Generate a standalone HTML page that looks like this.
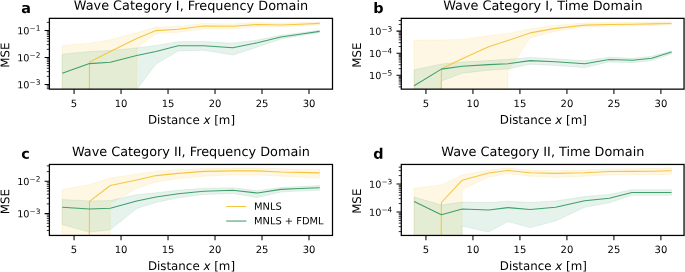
<!DOCTYPE html>
<html lang="en"><head><meta charset="utf-8"><title>MSE vs Distance</title>
<style>html,body{margin:0;padding:0;background:#fff}body{width:685px;height:272px;overflow:hidden}svg{display:block}text{font-family:"DejaVu Sans","Liberation Sans",sans-serif;fill:#000}.t{font-size:12.85px;text-anchor:middle}.l{font-size:11.85px;text-anchor:middle}.k{font-size:9.7px}.kx{text-anchor:middle;font-size:10px}.ky{text-anchor:end}.s{font-size:7.4px}.p{font-size:14.4px;font-weight:bold}.g{font-size:9.9px}</style></head><body>
<svg width="685" height="272" viewBox="0 0 685 272">
<rect width="685" height="272" fill="#fff"/>
<g id="panel-a">
<clipPath id="ca"><rect x="49.4" y="18.35" width="283.1" height="70.8"/></clipPath>
<g clip-path="url(#ca)">
<path d="M62.2 45.4 L89.5 43.3 L110.3 39.7 L136.7 32.7 L156 27 L178.2 26.5 L203.6 23.5 L232.8 23.9 L257.4 22.5 L280.9 23.2 L299.8 22.6 L319.6 22 L319.6 24.9 L299.8 26 L280.9 27.1 L257.4 26.6 L232.8 28.8 L203.6 29 L178.2 32.3 L156 33.8 L136.7 48 L110.3 5000 L89.5 5000 L62.2 5000Z" fill="#f6c643" fill-opacity="0.14" stroke="#f6c643" stroke-opacity="0.14" stroke-width="0.9" stroke-linejoin="miter"/>
<path d="M62.2 54.2 L89.5 51.6 L110.3 50.4 L136.7 47.9 L156 45.5 L178.2 41.7 L203.6 41.5 L232.8 43.2 L257.4 40 L280.9 35.3 L299.8 32.9 L319.6 30.3 L319.6 32.6 L299.8 35.7 L280.9 39 L257.4 47 L232.8 55 L203.6 50.2 L178.2 51 L156 64 L136.7 89.5 L110.3 5000 L89.5 5000 L62.2 5000Z" fill="#409f6a" fill-opacity="0.13" stroke="#409f6a" stroke-opacity="0.13" stroke-width="0.9" stroke-linejoin="miter"/>
<path d="M62.2 5000 L89.5 62.1 L110.3 51.6 L136.7 38.5 L156 30.6 L178.2 29.3 L203.6 26 L232.8 26.3 L257.4 24.5 L280.9 25.05 L299.8 24.2 L319.6 23.4" fill="none" stroke="#f6c643" stroke-width="1.07" stroke-linejoin="round"/>
<path d="M62.2 73.3 L89.5 63.6 L110.3 62.2 L136.7 55.6 L156 51.4 L178.2 45.8 L203.6 45.8 L232.8 47.7 L257.4 42.7 L280.9 37 L299.8 34.2 L319.6 31.4" fill="none" stroke="#409f6a" stroke-width="1.07" stroke-linejoin="round"/>
</g>
<path d="M74.05 89.15v4.8M121.04 89.15v4.8M168.03 89.15v4.8M215.02 89.15v4.8M262.01 89.15v4.8M309 89.15v4.8" stroke="#000" stroke-width="1.05" fill="none"/>
<path d="M49.4 30.5h-4.8M49.4 57.4h-4.8M49.4 84.5h-4.8" stroke="#000" stroke-width="1.05" fill="none"/>
<path d="M49.4 88.68h-2.6M49.4 87.12h-2.6M49.4 85.74h-2.6M49.4 76.37h-2.6M49.4 71.62h-2.6M49.4 68.24h-2.6M49.4 65.63h-2.6M49.4 63.49h-2.6M49.4 61.68h-2.6M49.4 60.12h-2.6M49.4 58.74h-2.6M49.4 49.37h-2.6M49.4 44.62h-2.6M49.4 41.24h-2.6M49.4 38.63h-2.6M49.4 36.49h-2.6M49.4 34.68h-2.6M49.4 33.12h-2.6M49.4 31.74h-2.6M49.4 22.37h-2.6" stroke="#000" stroke-width="0.8" fill="none"/>
<rect x="49.4" y="18.35" width="283.1" height="70.8" fill="none" stroke="#000" stroke-width="1.25"/>
<text class="k kx" x="74.05" y="107.05" transform="rotate(0.03 74.05 107.05)">5</text>
<text class="k kx" x="121.04" y="107.05" transform="rotate(0.03 121.04 107.05)">10</text>
<text class="k kx" x="168.03" y="107.05" transform="rotate(0.03 168.03 107.05)">15</text>
<text class="k kx" x="215.02" y="107.05" transform="rotate(0.03 215.02 107.05)">20</text>
<text class="k kx" x="262.01" y="107.05" transform="rotate(0.03 262.01 107.05)">25</text>
<text class="k kx" x="309" y="107.05" transform="rotate(0.03 309 107.05)">30</text>
<text class="k ky" x="40.4" y="34.25" transform="rotate(0.03 40.4 34.25)">10<tspan class="s" dx="-0.05" dy="-3.45">−1</tspan></text>
<text class="k ky" x="40.4" y="61.15" transform="rotate(0.03 40.4 61.15)">10<tspan class="s" dx="-0.05" dy="-3.45">−2</tspan></text>
<text class="k ky" x="40.4" y="88.25" transform="rotate(0.03 40.4 88.25)">10<tspan class="s" dx="-0.05" dy="-3.45">−3</tspan></text>
<text class="t" x="190.95" y="9.9" transform="rotate(0.03 190.95 9.9)">Wave Category I, Frequency Domain</text>
<text class="l" x="191.45" y="123.9" transform="rotate(0.03 191.45 123.9)">Distance <tspan font-style="italic">x</tspan> [m]</text>
<text class="l" transform="translate(9.2 55.2) rotate(-90.03)">MSE</text>
<text class="p" x="21.2" y="13" transform="rotate(0.03 21.2 13)">a</text>
</g>
<g id="panel-b">
<clipPath id="cb"><rect x="401.3" y="18.35" width="282.75" height="70.8"/></clipPath>
<g clip-path="url(#cb)">
<path d="M414.1 40.3 L441.4 40 L462.2 39.5 L488.6 35.8 L507.9 33.4 L530.1 28.9 L555.5 25.3 L584.7 23.1 L609.3 22.6 L632.8 22.4 L651.7 22.1 L671.5 21.8 L671.5 25 L651.7 25.5 L632.8 26 L609.3 26.2 L584.7 26.8 L555.5 31.2 L530.1 38 L507.9 71.5 L488.6 5000 L462.2 5000 L441.4 5000 L414.1 5000Z" fill="#f6c643" fill-opacity="0.14" stroke="#f6c643" stroke-opacity="0.14" stroke-width="0.9" stroke-linejoin="miter"/>
<path d="M414.1 69.9 L441.4 64 L462.2 62 L488.6 60.6 L507.9 59.3 L530.1 57.4 L555.5 58.8 L584.7 60.8 L609.3 57.3 L632.8 58.3 L651.7 56.2 L671.5 50.8 L671.5 53.9 L651.7 60.5 L632.8 62.8 L609.3 61.9 L584.7 67.6 L555.5 65.5 L530.1 64.2 L507.9 68.9 L488.6 70.2 L462.2 73.3 L441.4 81 L414.1 5000Z" fill="#409f6a" fill-opacity="0.13" stroke="#409f6a" stroke-opacity="0.13" stroke-width="0.9" stroke-linejoin="miter"/>
<path d="M414.1 5000 L441.4 68.8 L462.2 58.8 L488.6 46.8 L507.9 40.5 L530.1 32.9 L555.5 28.4 L584.7 25.1 L609.3 24.5 L632.8 24.3 L651.7 23.9 L671.5 23.5" fill="none" stroke="#f6c643" stroke-width="1.07" stroke-linejoin="round"/>
<path d="M414.1 85.8 L441.4 69.1 L462.2 66.2 L488.6 64.6 L507.9 63.8 L530.1 60.6 L555.5 61.8 L584.7 63.7 L609.3 59.5 L632.8 60.3 L651.7 58.2 L671.5 52.1" fill="none" stroke="#409f6a" stroke-width="1.07" stroke-linejoin="round"/>
</g>
<path d="M425.95 89.15v4.8M472.94 89.15v4.8M519.93 89.15v4.8M566.92 89.15v4.8M613.91 89.15v4.8M660.9 89.15v4.8" stroke="#000" stroke-width="1.05" fill="none"/>
<path d="M401.3 31.1h-4.8M401.3 53.2h-4.8M401.3 75.3h-4.8" stroke="#000" stroke-width="1.05" fill="none"/>
<path d="M401.3 86.86h-2.6M401.3 84.09h-2.6M401.3 81.95h-2.6M401.3 80.2h-2.6M401.3 78.72h-2.6M401.3 77.44h-2.6M401.3 76.31h-2.6M401.3 68.65h-2.6M401.3 64.76h-2.6M401.3 61.99h-2.6M401.3 59.85h-2.6M401.3 58.1h-2.6M401.3 56.62h-2.6M401.3 55.34h-2.6M401.3 54.21h-2.6M401.3 46.55h-2.6M401.3 42.66h-2.6M401.3 39.89h-2.6M401.3 37.75h-2.6M401.3 36h-2.6M401.3 34.52h-2.6M401.3 33.24h-2.6M401.3 32.11h-2.6M401.3 24.45h-2.6M401.3 20.56h-2.6" stroke="#000" stroke-width="0.8" fill="none"/>
<rect x="401.3" y="18.35" width="282.75" height="70.8" fill="none" stroke="#000" stroke-width="1.25"/>
<text class="k kx" x="425.95" y="107.05" transform="rotate(0.03 425.95 107.05)">5</text>
<text class="k kx" x="472.94" y="107.05" transform="rotate(0.03 472.94 107.05)">10</text>
<text class="k kx" x="519.93" y="107.05" transform="rotate(0.03 519.93 107.05)">15</text>
<text class="k kx" x="566.92" y="107.05" transform="rotate(0.03 566.92 107.05)">20</text>
<text class="k kx" x="613.91" y="107.05" transform="rotate(0.03 613.91 107.05)">25</text>
<text class="k kx" x="660.9" y="107.05" transform="rotate(0.03 660.9 107.05)">30</text>
<text class="k ky" x="392.3" y="34.85" transform="rotate(0.03 392.3 34.85)">10<tspan class="s" dx="-0.05" dy="-3.45">−3</tspan></text>
<text class="k ky" x="392.3" y="56.95" transform="rotate(0.03 392.3 56.95)">10<tspan class="s" dx="-0.05" dy="-3.45">−4</tspan></text>
<text class="k ky" x="392.3" y="79.05" transform="rotate(0.03 392.3 79.05)">10<tspan class="s" dx="-0.05" dy="-3.45">−5</tspan></text>
<text class="t" x="542.85" y="9.9" transform="rotate(0.03 542.85 9.9)">Wave Category I, Time Domain</text>
<text class="l" x="543.35" y="123.9" transform="rotate(0.03 543.35 123.9)">Distance <tspan font-style="italic">x</tspan> [m]</text>
<text class="l" transform="translate(361.1 55.2) rotate(-90.03)">MSE</text>
<text class="p" x="373.2" y="13" transform="rotate(0.03 373.2 13)">b</text>
</g>
<g id="panel-c">
<clipPath id="cc"><rect x="49.4" y="164.45" width="283.1" height="71"/></clipPath>
<g clip-path="url(#cc)">
<path d="M62.2 189.5 L89.5 184.7 L110.3 178.1 L136.7 174 L156 171.2 L178.2 170 L203.6 168.5 L232.8 168 L257.4 168 L280.9 168.8 L299.8 169.3 L319.6 169.3 L319.6 177.9 L299.8 177.1 L280.9 176.2 L257.4 174.9 L232.8 174.9 L203.6 176.2 L178.2 178.7 L156 182 L136.7 188.3 L110.3 203.6 L89.5 5000 L62.2 5000Z" fill="#f6c643" fill-opacity="0.14" stroke="#f6c643" stroke-opacity="0.14" stroke-width="0.9" stroke-linejoin="miter"/>
<path d="M62.2 199.5 L89.5 201 L110.3 200.5 L136.7 194.8 L156 192.8 L178.2 190.3 L203.6 188.2 L232.8 187.8 L257.4 190.7 L280.9 187.5 L299.8 186.5 L319.6 185.5 L319.6 190.3 L299.8 191.1 L280.9 192 L257.4 197.5 L232.8 193.6 L203.6 194.5 L178.2 197.8 L156 202.4 L136.7 208.5 L110.3 229.8 L89.5 232.1 L62.2 224.5Z" fill="#409f6a" fill-opacity="0.13" stroke="#409f6a" stroke-opacity="0.13" stroke-width="0.9" stroke-linejoin="miter"/>
<path d="M62.2 5000 L89.5 201.4 L110.3 185.5 L136.7 180 L156 175.6 L178.2 173.4 L203.6 171.4 L232.8 170.9 L257.4 170.9 L280.9 172 L299.8 172.4 L319.6 172.9" fill="none" stroke="#f6c643" stroke-width="1.07" stroke-linejoin="round"/>
<path d="M62.2 207.2 L89.5 209 L110.3 208.3 L136.7 200.9 L156 197 L178.2 193.7 L203.6 191.2 L232.8 190.2 L257.4 193 L280.9 189.4 L299.8 188.5 L319.6 187.8" fill="none" stroke="#409f6a" stroke-width="1.07" stroke-linejoin="round"/>
</g>
<path d="M74.05 235.45v4.8M121.04 235.45v4.8M168.03 235.45v4.8M215.02 235.45v4.8M262.01 235.45v4.8M309 235.45v4.8" stroke="#000" stroke-width="1.05" fill="none"/>
<path d="M49.4 181.3h-4.8M49.4 213.6h-4.8" stroke="#000" stroke-width="1.05" fill="none"/>
<path d="M49.4 230.49h-2.6M49.4 226.45h-2.6M49.4 223.32h-2.6M49.4 220.77h-2.6M49.4 218.6h-2.6M49.4 216.73h-2.6M49.4 215.08h-2.6M49.4 203.88h-2.6M49.4 198.19h-2.6M49.4 194.15h-2.6M49.4 191.02h-2.6M49.4 188.47h-2.6M49.4 186.3h-2.6M49.4 184.43h-2.6M49.4 182.78h-2.6M49.4 171.58h-2.6M49.4 165.89h-2.6" stroke="#000" stroke-width="0.8" fill="none"/>
<rect x="49.4" y="164.45" width="283.1" height="71" fill="none" stroke="#000" stroke-width="1.25"/>
<text class="k kx" x="74.05" y="253.1" transform="rotate(0.03 74.05 253.1)">5</text>
<text class="k kx" x="121.04" y="253.1" transform="rotate(0.03 121.04 253.1)">10</text>
<text class="k kx" x="168.03" y="253.1" transform="rotate(0.03 168.03 253.1)">15</text>
<text class="k kx" x="215.02" y="253.1" transform="rotate(0.03 215.02 253.1)">20</text>
<text class="k kx" x="262.01" y="253.1" transform="rotate(0.03 262.01 253.1)">25</text>
<text class="k kx" x="309" y="253.1" transform="rotate(0.03 309 253.1)">30</text>
<text class="k ky" x="40.4" y="185.05" transform="rotate(0.03 40.4 185.05)">10<tspan class="s" dx="-0.05" dy="-3.45">−2</tspan></text>
<text class="k ky" x="40.4" y="217.35" transform="rotate(0.03 40.4 217.35)">10<tspan class="s" dx="-0.05" dy="-3.45">−3</tspan></text>
<text class="t" x="190.95" y="155.95" transform="rotate(0.03 190.95 155.95)">Wave Category II, Frequency Domain</text>
<text class="l" x="191.45" y="269.95" transform="rotate(0.03 191.45 269.95)">Distance <tspan font-style="italic">x</tspan> [m]</text>
<text class="l" transform="translate(9.2 201.7) rotate(-90.03)">MSE</text>
<text class="p" x="21.2" y="158.7" transform="rotate(0.03 21.2 158.7)">c</text>
<path d="M226.2 206.5H246.4" stroke="#f6c643" stroke-width="1.07" fill="none"/>
<path d="M226.2 221.05H246.4" stroke="#409f6a" stroke-width="1.07" fill="none"/>
<text class="g" x="254" y="209.8" transform="rotate(0.03 254 209.8)">MNLS</text>
<text class="g" x="254" y="224.2" transform="rotate(0.03 254 224.2)">MNLS + FDML</text>
</g>
<g id="panel-d">
<clipPath id="cd"><rect x="401.3" y="164.45" width="282.75" height="71"/></clipPath>
<g clip-path="url(#cd)">
<path d="M414.1 188.3 L441.4 184.9 L462.2 175 L488.6 170 L507.9 168.1 L530.1 170.1 L555.5 170.7 L584.7 170.1 L609.3 168.9 L631.9 168.8 L651.7 168.5 L671.5 167.8 L671.5 174.3 L651.7 174.7 L631.9 174.9 L609.3 174.9 L584.7 176.2 L555.5 177.4 L530.1 176.1 L507.9 173.8 L488.6 177.1 L462.2 189.5 L441.4 5000 L414.1 5000Z" fill="#f6c643" fill-opacity="0.14" stroke="#f6c643" stroke-opacity="0.14" stroke-width="0.9" stroke-linejoin="miter"/>
<path d="M414.1 197 L441.4 205 L462.2 202 L488.6 202.6 L507.9 201.3 L530.1 202.5 L555.5 201 L584.7 196.6 L609.3 194.4 L631.9 189.8 L651.7 189.8 L671.5 189.8 L671.5 195.3 L651.7 195.3 L631.9 195.3 L609.3 202.8 L584.7 207.3 L555.5 221 L530.1 227.6 L507.9 221.5 L488.6 232 L462.2 226 L441.4 5000 L414.1 5000Z" fill="#409f6a" fill-opacity="0.13" stroke="#409f6a" stroke-opacity="0.13" stroke-width="0.9" stroke-linejoin="miter"/>
<path d="M414.1 5000 L441.4 202.5 L462.2 180.2 L488.6 173 L507.9 170.5 L530.1 172.7 L555.5 173.4 L584.7 172.7 L609.3 171.5 L631.9 171.4 L651.7 171.2 L671.5 170.7" fill="none" stroke="#f6c643" stroke-width="1.07" stroke-linejoin="round"/>
<path d="M414.1 201.5 L441.4 214.8 L462.2 209 L488.6 210 L507.9 207.6 L530.1 209.5 L555.5 207.3 L584.7 200.7 L609.3 198.2 L631.9 192.5 L651.7 192.5 L671.5 192.5" fill="none" stroke="#409f6a" stroke-width="1.07" stroke-linejoin="round"/>
</g>
<path d="M425.95 235.45v4.8M472.94 235.45v4.8M519.93 235.45v4.8M566.92 235.45v4.8M613.91 235.45v4.8M660.9 235.45v4.8" stroke="#000" stroke-width="1.05" fill="none"/>
<path d="M401.3 184h-4.8M401.3 212h-4.8" stroke="#000" stroke-width="1.05" fill="none"/>
<path d="M401.3 231.57h-2.6M401.3 226.64h-2.6M401.3 223.14h-2.6M401.3 220.43h-2.6M401.3 218.21h-2.6M401.3 216.34h-2.6M401.3 214.71h-2.6M401.3 213.28h-2.6M401.3 203.57h-2.6M401.3 198.64h-2.6M401.3 195.14h-2.6M401.3 192.43h-2.6M401.3 190.21h-2.6M401.3 188.34h-2.6M401.3 186.71h-2.6M401.3 185.28h-2.6M401.3 175.57h-2.6M401.3 170.64h-2.6M401.3 167.14h-2.6" stroke="#000" stroke-width="0.8" fill="none"/>
<rect x="401.3" y="164.45" width="282.75" height="71" fill="none" stroke="#000" stroke-width="1.25"/>
<text class="k kx" x="425.95" y="253.1" transform="rotate(0.03 425.95 253.1)">5</text>
<text class="k kx" x="472.94" y="253.1" transform="rotate(0.03 472.94 253.1)">10</text>
<text class="k kx" x="519.93" y="253.1" transform="rotate(0.03 519.93 253.1)">15</text>
<text class="k kx" x="566.92" y="253.1" transform="rotate(0.03 566.92 253.1)">20</text>
<text class="k kx" x="613.91" y="253.1" transform="rotate(0.03 613.91 253.1)">25</text>
<text class="k kx" x="660.9" y="253.1" transform="rotate(0.03 660.9 253.1)">30</text>
<text class="k ky" x="392.3" y="187.75" transform="rotate(0.03 392.3 187.75)">10<tspan class="s" dx="-0.05" dy="-3.45">−3</tspan></text>
<text class="k ky" x="392.3" y="215.75" transform="rotate(0.03 392.3 215.75)">10<tspan class="s" dx="-0.05" dy="-3.45">−4</tspan></text>
<text class="t" x="542.85" y="155.95" transform="rotate(0.03 542.85 155.95)">Wave Category II, Time Domain</text>
<text class="l" x="543.35" y="269.95" transform="rotate(0.03 543.35 269.95)">Distance <tspan font-style="italic">x</tspan> [m]</text>
<text class="l" transform="translate(361.1 201.25) rotate(-90.03)">MSE</text>
<text class="p" x="373.2" y="158.7" transform="rotate(0.03 373.2 158.7)">d</text>
</g>
</svg></body></html>
